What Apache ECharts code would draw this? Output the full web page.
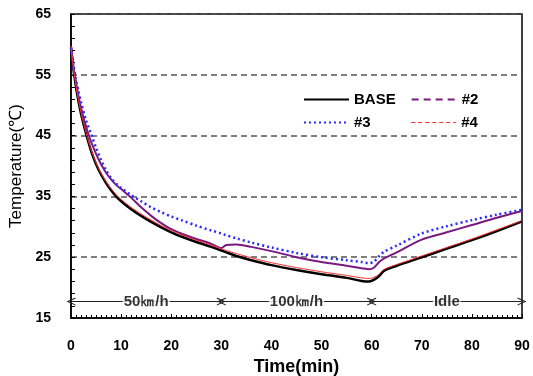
<!DOCTYPE html>
<html><head><meta charset="utf-8">
<script src="https://cdn.jsdelivr.net/npm/echarts@6/dist/echarts.min.js"></script>
<style>html,body{margin:0;padding:0;background:#fff}#c{width:533px;height:376px}</style>
</head><body><div id="c"></div>
<script>
const times = [0,0.5,1,1.5,2,3,4,5,6,7,8,9,10,12,14,16,18,20,22,25,28,30,31,33,36,40,45,50,55,58,59.5,60.5,61.5,62.5,65,70,75,80,85,90];
const baseVals = [59.5,55.8,53.0,50.6,48.6,45.3,42.5,40.3,38.6,37.2,36.0,35.0,34.2,32.9,31.8,30.8,29.9,29.1,28.4,27.5,26.7,26.1,25.8,25.2,24.5,23.7,22.9,22.2,21.6,21.1,21.0,21.3,21.9,22.8,23.6,25.0,26.4,27.8,29.3,30.9];
const s2Vals = [59.5,56.2,53.8,51.5,49.6,46.5,44.0,42.0,40.3,38.9,37.8,36.9,36.2,34.8,33.2,31.8,30.6,29.6,28.9,28.0,27.2,26.5,27.0,27.1,26.7,26.0,25.0,24.2,23.6,23.2,23.0,23.3,24.2,24.8,25.8,27.9,29.1,30.3,31.5,32.6];
const s3Vals = [59.5,56.5,54.2,52.3,50.5,47.5,45.3,43.0,41.0,39.3,38.0,37.1,36.4,35.2,34.2,33.2,32.4,31.7,31.1,30.2,29.4,28.9,28.6,28.1,27.4,26.6,25.7,25.0,24.5,24.2,24.0,24.3,25.2,25.9,26.9,28.9,30.1,31.1,32.0,32.8];
const s4Vals = [59.8,56.0,53.2,50.8,48.8,45.5,42.7,40.5,38.8,37.4,36.3,35.3,34.5,33.2,32.1,31.1,30.2,29.4,28.7,27.8,27.0,26.4,26.1,25.6,24.9,24.1,23.3,22.6,22.0,21.6,21.5,21.7,22.2,23.0,23.8,25.2,26.6,28.0,29.5,31.0];
const seriesNames = ['BASE','#2','#3','#4'];
const phaseNames = ['50㎞/h','100㎞/h','Idle'];
const phaseBounds = [0,30,60,90];
const phaseLevel = 17.7;
const yTicks = [15,25,35,45,55,65];
const xTicks = [0,10,20,30,40,50,60,70,80,90];

const pair = v => times.map((t,i)=>[t,v[i]]);
const F = '"Liberation Sans", Arial, sans-serif';
const chev = 'path://M0,10 L5,0 L10,10 L8.6,10 L5,2.8 L1.4,10 Z';

const chart = echarts.init(document.getElementById('c'), null, {renderer:'canvas'});
const markData = [];
for (let i=0;i<phaseNames.length;i++){
  markData.push([{coord:[phaseBounds[i],phaseLevel]},{coord:[phaseBounds[i+1],phaseLevel]}]);
}
const legText = {fontFamily:F,fontSize:15,fontWeight:'bold',color:'#000'};
chart.setOption({
  animation:false,
  backgroundColor:'#fff',
  grid:{left:71,right:11,top:14,bottom:58,outerBoundsMode:'none',containLabel:false,show:true,borderColor:'#000',borderWidth:1.5,backgroundColor:'transparent'},
  legend:[
    {data:[{name:'BASE'},{name:'#2',lineStyle:{type:[7,5],width:2}}],left:298,top:87,itemWidth:45,itemHeight:10,itemGap:15,
     itemStyle:{opacity:0},textStyle:legText},
    {data:[{name:'#3'},{name:'#4',lineStyle:{type:[4,3],width:1}}],left:298,top:110,itemWidth:45,itemHeight:10,itemGap:40,
     itemStyle:{opacity:0},textStyle:legText}
  ],
  xAxis:{type:'value',min:xTicks[0],max:xTicks[xTicks.length-1],interval:10,
    name:'Time(min)',nameLocation:'middle',nameGap:34,
    nameTextStyle:{fontFamily:F,fontSize:18,fontWeight:'bold',color:'#000'},
    axisLine:{lineStyle:{color:'#000',width:1.5}},
    axisTick:{inside:true,length:4,lineStyle:{color:'#000'}},
    minorTick:{show:true,splitNumber:10,length:3,lineStyle:{color:'#000'}},
    axisLabel:{margin:21,fontFamily:F,fontSize:14,fontWeight:'bold',color:'#000'},
    splitLine:{show:false}},
  yAxis:{type:'value',min:yTicks[0],max:yTicks[yTicks.length-1],interval:10,
    name:'Temperature(℃)',nameLocation:'middle',nameGap:46,
    nameTextStyle:{fontFamily:F,fontSize:17,color:'#000'},
    axisLine:{show:true,lineStyle:{color:'#000',width:1.5}},
    axisTick:{inside:true,length:4,lineStyle:{color:'#000'}},
    minorTick:{show:true,splitNumber:5,length:4,lineStyle:{color:'#000'}},
    axisLabel:{margin:20,fontFamily:F,fontSize:14,fontWeight:'bold',color:'#000'},
    splitLine:{show:true,lineStyle:{color:'#555',width:1.5,type:[6,4]}}},
  series:[
    {name:seriesNames[0],type:'line',data:pair(baseVals),symbol:'none',smooth:0.3,
     lineStyle:{color:'#000',width:2.5},itemStyle:{color:'#000'},
     markLine:{silent:true,symbol:[chev,chev],symbolSize:[8,9],
       lineStyle:{color:'#222',width:1,type:'solid'},label:{show:false},data:markData}},
    {name:seriesNames[1],type:'line',data:pair(s2Vals),symbol:'none',smooth:0.3,
     lineStyle:{color:'#7a1a80',width:2},itemStyle:{color:'#7a1a80'}},
    {name:seriesNames[2],type:'line',data:pair(s3Vals),symbol:'none',smooth:0.3,
     lineStyle:{color:'#2a2aff',width:2.5,type:[2,3]},itemStyle:{color:'#2a2aff'}},
    {name:seriesNames[3],type:'line',data:pair(s4Vals),symbol:'none',smooth:0.3,
     lineStyle:{color:'#ff3030',width:1},itemStyle:{color:'#ff3030'}},
    {name:'phases',type:'scatter',symbolSize:0,silent:true,z:5,
     data:phaseNames.map((n,i)=>({name:n,value:[(phaseBounds[i]+phaseBounds[i+1])/2,phaseLevel]})),
     label:{show:true,position:'inside',formatter:p=>p.name,backgroundColor:'#fff',padding:[0,1],
       fontFamily:F,fontSize:15,fontWeight:'bold',color:'#000'}}
  ]
});
</script></body></html>
